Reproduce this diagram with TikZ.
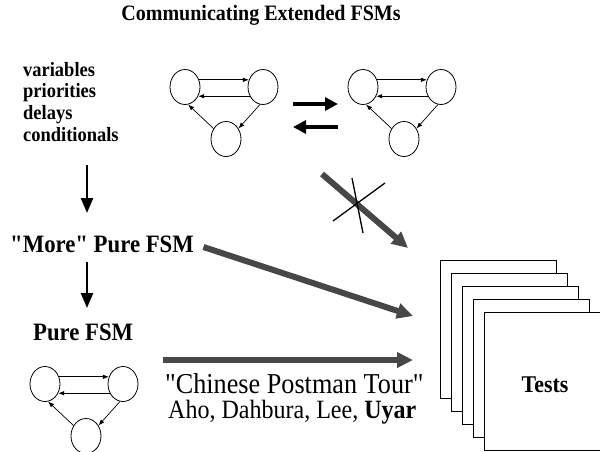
\documentclass[tikz,border=0pt]{standalone}
\usepackage{fontspec}
\setmainfont{Liberation Serif}
\usetikzlibrary{shapes, arrows.meta, calc}

\begin{document}
\begin{tikzpicture}[x=1pt, y=-1pt,
    fsmstate/.style={draw, ellipse, minimum width=30pt, minimum height=35pt, inner sep=0pt, line width=0.8pt},
    trans/.style={-{Latex[length=6pt,width=4.5pt]}, line width=0.7pt},
    swaparrow/.style={-{Triangle[length=13pt,width=13pt]}, line width=4.5pt},
    downarrow/.style={-{Triangle[length=15pt,width=12pt]}, line width=2.6pt},
    flow/.style={-{Triangle[length=16pt,width=15pt]}, line width=6pt, draw=black!72, fill=black!72},
    page/.style={draw, fill=white, minimum width=116pt, minimum height=138pt, inner sep=0pt, line width=0.9pt},
    tall/.style={transform shape, xscale=0.91}]
    \useasboundingbox (0,0) rectangle (600,451);

    % title and the extensions
    \node[tall, anchor=base, font=\bfseries\fontsize{22}{24}\selectfont] (title) at (261,20) {Communicating Extended FSMs};
    \node[tall, anchor=north west, inner sep=0pt, align=left, font=\bfseries\fontsize{20.3}{21.6}\selectfont] (ext) at (23,62) {variables\\priorities\\delays\\conditionals};
    \node[tall, anchor=base west, inner sep=0pt, font=\bfseries\fontsize{25}{27}\selectfont] (more) at (10,252) {\textquotedbl More\textquotedbl{} Pure FSM};
    \node[tall, anchor=base west, inner sep=0pt, font=\bfseries\fontsize{25}{27}\selectfont] (pure) at (33,340) {Pure FSM};

    % the three state machines
    \foreach \f/\x/\y in {one/185/87, two/363/87, low/45/384} {
        \node[fsmstate] (\f-a) at (\x,\y) {};
        \node[fsmstate] (\f-b) at (\x+78,\y) {};
        \node[fsmstate] (\f-c) at (\x+41,\y+52) {};
        \draw[trans] (\f-a.27) -- (\f-b.153);
        \draw[trans] (\f-b.-145) -- (\f-a.-35);
        \draw[trans] (\f-c.140) -- (\f-a.-80);
        \draw[trans] (\f-b.-100) -- (\f-c.40);
    }

    % communication between the two machines
    \coordinate (sw1) at (293,104);
    \coordinate (sw2) at (338,104);
    \coordinate (sw3) at (338,127);
    \coordinate (sw4) at (293,127);
    \draw[swaparrow] (sw1) -- (sw2);
    \draw[swaparrow] (sw3) -- (sw4);

    % stack of tests
    \foreach \k in {1,...,5}
        \node[page] (page\k) at ({487+11*\k}, {316+13*\k}) {};
    \node[tall, font=\bfseries\fontsize{24}{26}\selectfont] (tests) at ($(page5)+(3,4)$) {Tests};

    % reductions
    \coordinate (d1top) at (87,165);
    \coordinate (d1bot) at (87,213);
    \coordinate (d2top) at (87,262);
    \coordinate (d2bot) at (87,308);
    \draw[downarrow] (d1top) -- (d1bot);
    \draw[downarrow] (d2top) -- (d2bot);

    % generating tests
    \coordinate (xfrom) at (322,174);
    \coordinate (xto) at (408,248);
    \coordinate (mto) at (413,316);
    \coordinate (pfrom) at (163,360);
    \coordinate (pto) at (413,360);
    \draw[flow] (xfrom) -- (xto);
    \draw[flow, shorten <=10pt] (more.east) -- (mto);
    \draw[flow] (pfrom) -- (pto);
    \draw[line width=1.3pt] (333,221) -- (385,183);
    \draw[line width=1.3pt] (352,178) -- (363,233);

    \node[tall, anchor=base west, inner sep=0pt, font=\fontsize{28.8}{30}\selectfont] (tour) at (165,393) {\textquotedbl Chinese Postman Tour\textquotedbl};
    \node[tall, anchor=base west, inner sep=0pt, font=\fontsize{26.4}{28}\selectfont] (names) at (168,418) {Aho, Dahbura, Lee, \textbf{Uyar}};
\end{tikzpicture}
\end{document}
